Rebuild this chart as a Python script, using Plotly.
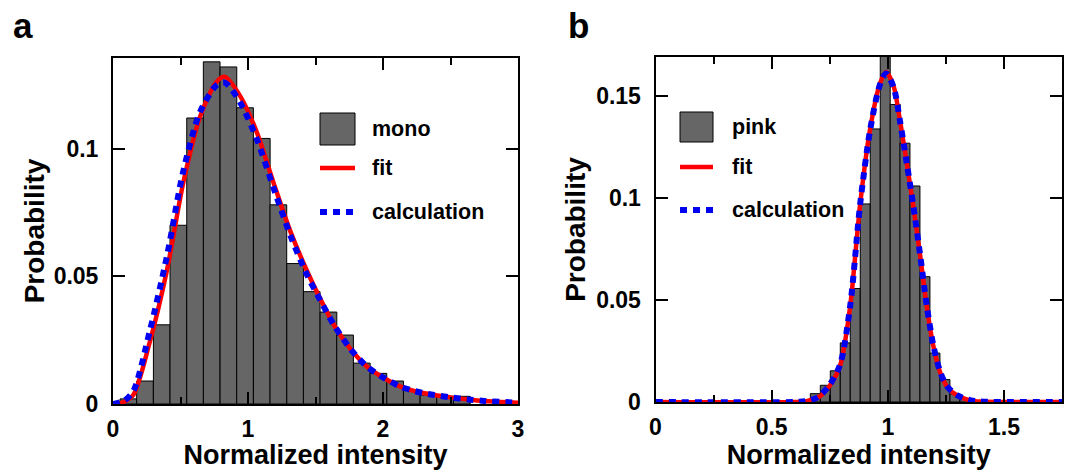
import plotly.graph_objects as go

# ---------------- data ----------------
# panel a : histogram of "mono"
mono_centers = [0.114, 0.237, 0.361, 0.484, 0.608, 0.731, 0.855, 0.978, 1.102, 1.225,
                1.349, 1.472, 1.596, 1.719, 1.843, 1.966, 2.090, 2.213, 2.337, 2.460, 2.584]
mono_prob = [0.002, 0.009, 0.031, 0.070, 0.112, 0.134, 0.132, 0.116, 0.104, 0.078,
             0.055, 0.044, 0.036, 0.027, 0.016, 0.012, 0.009, 0.0055, 0.0035, 0.003, 0.003]
mono_binwidth = 0.1235

a_curve_x = [0.0, 0.08, 0.15, 0.27, 0.40, 0.52, 0.646, 0.77, 0.83, 0.943, 1.067, 1.19,
             1.314, 1.438, 1.537, 1.636, 1.76, 1.884, 2.007, 2.13, 2.255, 2.38, 2.50,
             2.63, 2.75, 3.0]
a_fit = [0.0, 0.0008, 0.0035, 0.0238, 0.0525, 0.0865, 0.1127, 0.1264, 0.1281, 0.1205,
         0.1062, 0.0865, 0.0676, 0.052, 0.041, 0.031, 0.0215, 0.0145, 0.0102, 0.0068,
         0.0048, 0.0035, 0.0026, 0.0018, 0.0012, 0.0005]
a_calc = [0.0, 0.0012, 0.005, 0.028, 0.058, 0.091, 0.1145, 0.1250, 0.1258, 0.118,
          0.1035, 0.0845, 0.066, 0.0505, 0.0405, 0.031, 0.0215, 0.0145, 0.0102, 0.0068,
          0.0048, 0.0035, 0.0026, 0.0018, 0.0012, 0.0005]

# panel b : histogram of "pink"
pink_centers = [0.688, 0.731, 0.774, 0.817, 0.860, 0.903, 0.946, 0.989, 1.032, 1.074,
                1.117, 1.160, 1.203, 1.246, 1.289, 1.332]
pink_prob = [0.0041, 0.0082, 0.0153, 0.029, 0.0557, 0.0972, 0.134, 0.172, 0.146, 0.127,
             0.106, 0.0615, 0.024, 0.011, 0.004, 0.0017]
pink_binwidth = 0.0429

b_curve_x = [0.0, 0.60, 0.65, 0.70, 0.75, 0.795, 0.838, 0.881, 0.924, 0.967, 0.993,
             1.025, 1.053, 1.082, 1.11, 1.14, 1.168, 1.197, 1.225, 1.254, 1.297, 1.354,
             1.40, 1.75]
b_fit = [0.0, 0.0, 0.0004, 0.0022, 0.008, 0.018, 0.047, 0.097, 0.134, 0.1565, 0.162,
         0.155, 0.1377, 0.117, 0.096, 0.0713, 0.0467, 0.027, 0.0147, 0.0077, 0.0033,
         0.0008, 0.0002, 0.0]
b_calc = [0.0, 0.0, 0.0005, 0.0024, 0.0085, 0.0185, 0.047, 0.097, 0.1335, 0.156, 0.1612,
          0.1545, 0.1375, 0.117, 0.0962, 0.0716, 0.047, 0.0273, 0.015, 0.0079, 0.0034,
          0.0009, 0.0002, 0.0]

panel_labels = ["a", "b"]
legend_names_a = ["mono", "fit", "calculation"]
legend_names_b = ["pink", "fit", "calculation"]
x_title = "Normalized intensity"
y_title = "Probability"

# ---------------- styles ----------------
W, H = 1067, 470
BAR_COLOR = "#666666"
RED = "#ff0000"
BLUE = "#0000f0"
FIT_W = 4.5
CALC_W = 6
CALC_DASH = "7px,6px"
FONT = "Liberation Sans, Arial, sans-serif"


def px(x):
    return x / W


def py(y):
    return 1 - y / H


fig = go.Figure()

# panel a
fig.add_trace(go.Bar(x=mono_centers, y=mono_prob, width=mono_binwidth,
                     marker=dict(color=BAR_COLOR, line=dict(color="black", width=1)),
                     name=legend_names_a[0], xaxis="x", yaxis="y", showlegend=False))
fig.add_trace(go.Scatter(x=a_curve_x, y=a_fit, mode="lines", name=legend_names_a[1],
                         line=dict(color=RED, width=FIT_W, shape="spline", smoothing=0.8),
                         xaxis="x", yaxis="y", showlegend=False))
fig.add_trace(go.Scatter(x=a_curve_x, y=a_calc, mode="lines", name=legend_names_a[2],
                         line=dict(color=BLUE, width=CALC_W, dash=CALC_DASH,
                                   shape="spline", smoothing=0.8),
                         xaxis="x", yaxis="y", showlegend=False))

# panel b
fig.add_trace(go.Bar(x=pink_centers, y=pink_prob, width=pink_binwidth,
                     marker=dict(color=BAR_COLOR, line=dict(color="black", width=1)),
                     name=legend_names_b[0], xaxis="x2", yaxis="y2", showlegend=False))
fig.add_trace(go.Scatter(x=b_curve_x, y=b_fit, mode="lines", name=legend_names_b[1],
                         line=dict(color=RED, width=FIT_W, shape="spline", smoothing=0.8),
                         xaxis="x2", yaxis="y2", showlegend=False))
fig.add_trace(go.Scatter(x=b_curve_x, y=b_calc, mode="lines", name=legend_names_b[2],
                         line=dict(color=BLUE, width=CALC_W, dash=CALC_DASH,
                                   shape="spline", smoothing=0.8),
                         xaxis="x2", yaxis="y2", showlegend=False))

tickfont = dict(family=FONT, size=23, color="black", weight="bold")
xtitlefont = dict(family=FONT, size=27, color="black", weight="bold")
ytitlefont = dict(family=FONT, size=28, color="black", weight="bold")

axis_common = dict(showline=True, linecolor="black", linewidth=2, mirror="ticks",
                   ticks="inside", ticklen=12, tickwidth=2, tickcolor="black",
                   showgrid=False, zeroline=False, tickfont=tickfont,
                   automargin=False)

fig.update_layout(
    width=W, height=H,
    margin=dict(l=0, r=0, t=0, b=0),
    paper_bgcolor="white", plot_bgcolor="white",
    font=dict(family=FONT, color="black"),
    showlegend=False,
    barmode="overlay",
    xaxis=dict(axis_common, domain=[px(113), px(518)], range=[0, 3], dtick=1, tick0=0,
               anchor="y", minor=dict(ticks="inside", ticklen=7, tickwidth=2,
                                       dtick=0.5, tick0=0, tickcolor="black"),
               ticklabelstandoff=3,
               title=dict(text=x_title, standoff=5, font=xtitlefont)),
    yaxis=dict(axis_common, domain=[py(404), py(58)], range=[0, 0.1355], dtick=0.05,
               tick0=0, anchor="x", ticklabelstandoff=8,
               title=dict(text=y_title, standoff=1, font=ytitlefont)),
    xaxis2=dict(axis_common, domain=[px(655.5), px(1062)], range=[0, 1.75], dtick=0.5,
                tick0=0, anchor="y2",
                minor=dict(ticks="inside", ticklen=7, tickwidth=2, dtick=0.25, tick0=0,
                           tickcolor="black"),
                ticklabelstandoff=3,
                title=dict(text=x_title, standoff=5, font=xtitlefont)),
    yaxis2=dict(axis_common, domain=[py(402), py(57)], range=[0, 0.1693], dtick=0.05,
                tick0=0, anchor="x2", ticklabelstandoff=8,
                title=dict(text=y_title, standoff=2, font=ytitlefont)),
)

# ---------- hand-drawn legends (paper coordinates) ----------
legend_specs = [
    # (square x0, x1, square y0, y1, fit y, calc y, text x, names)
    (320, 355, 113, 145, 168, 212, 370, legend_names_a),
    (680, 713, 112, 142, 167, 210, 730, legend_names_b),
]
shapes = []
annotations = []
for x0, x1, sy0, sy1, fy, cy, tx, names in legend_specs:
    shapes.append(dict(type="rect", xref="paper", yref="paper",
                       x0=px(x0), x1=px(x1), y0=py(sy1), y1=py(sy0),
                       fillcolor=BAR_COLOR, line=dict(color="black", width=1)))
    shapes.append(dict(type="line", xref="paper", yref="paper",
                       x0=px(x0), x1=px(x1), y0=py(fy), y1=py(fy),
                       line=dict(color=RED, width=FIT_W)))
    shapes.append(dict(type="line", xref="paper", yref="paper",
                       x0=px(x0), x1=px(x1 + 1), y0=py(cy), y1=py(cy),
                       line=dict(color=BLUE, width=CALC_W, dash=CALC_DASH)))
    for name, ty in zip(names, [(sy0 + sy1) / 2, fy, cy]):
        annotations.append(dict(text=name, xref="paper", yref="paper", x=px(tx), y=py(ty),
                                xanchor="left", yanchor="middle", showarrow=False,
                                font=dict(family=FONT, size=21.5, color="black",
                                          weight="bold")))

# panel letters
for label, lx in zip(panel_labels, [11, 566]):
    annotations.append(dict(text=label, xref="paper", yref="paper", x=px(lx), y=py(47),
                            xanchor="left", yanchor="bottom", showarrow=False,
                            font=dict(family=FONT, size=35, color="black",
                                      weight="bold")))

fig.update_layout(shapes=shapes, annotations=annotations)

fig.write_html("out.html", config={"displayModeBar": False},
               post_script="document.body.style.margin='0px';")
